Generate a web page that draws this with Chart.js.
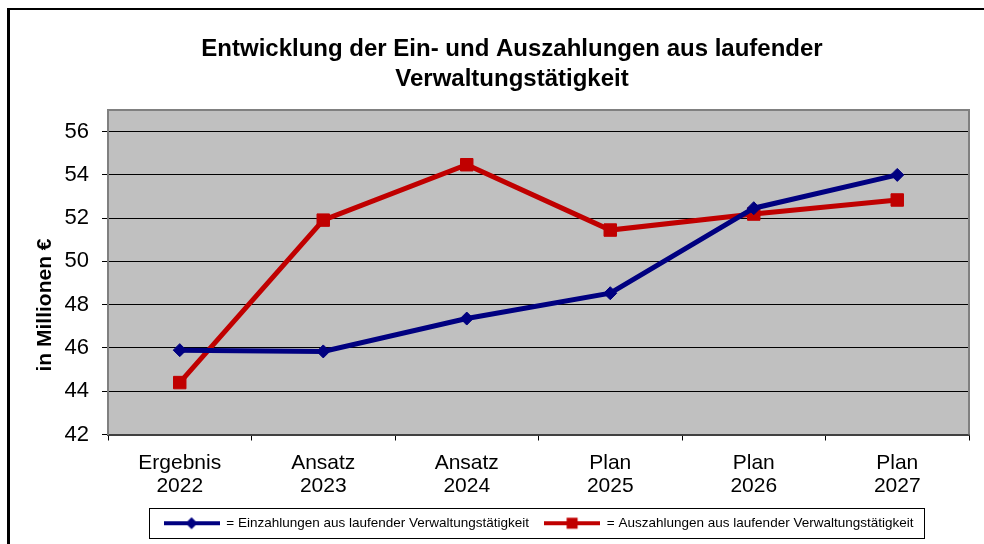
<!DOCTYPE html>
<html>
<head>
<meta charset="utf-8">
<script src="https://cdn.jsdelivr.net/npm/chart.js@4"></script>
<style>
  html, body { margin: 0; padding: 0; background: #fff; overflow: hidden; }
  #frame { position: absolute; left: 7px; top: 8px; width: 1200px; height: 800px;
           border-top: 2px solid #000; border-left: 3px solid #000; }
  #chart { position: absolute; left: 0; top: 0; }
</style>
</head>
<body>
<div id="frame"></div>
<canvas id="chart" width="984" height="544"></canvas>
<script>
// categories and values (Mio. €)
const categories = [['Ergebnis', '2022'], ['Ansatz', '2023'], ['Ansatz', '2024'], ['Plan', '2025'], ['Plan', '2026'], ['Plan', '2027']];
const einzahlungen = [45.90, 45.84, 47.36, 48.53, 52.46, 54.00];
const auszahlungen = [44.40, 51.91, 54.47, 51.45, 52.19, 52.84];
const seriesNames = ['Einzahlungen aus laufender Verwaltungstätigkeit', 'Auszahlungen aus laufender Verwaltungstätigkeit'];
const yTicks = [42, 44, 46, 48, 50, 52, 54, 56];
const titleLines = ['Entwicklung der Ein- und Auszahlungen aus laufender', 'Verwaltungstätigkeit'];
const yTitle = 'in Millionen €';

const FONT = '"Liberation Sans", Arial, sans-serif';
const BLUE = '#000080';
const RED = '#C00000';

// little legend icons: line with marker in the middle
function legendIcon(color, shape) {
  const c = document.createElement('canvas');
  c.width = 56; c.height = 14;
  const g = c.getContext('2d');
  g.strokeStyle = color; g.fillStyle = color; g.lineWidth = 4;
  g.beginPath(); g.moveTo(0, 7); g.lineTo(56, 7); g.stroke();
  g.beginPath();
  if (shape === 'diamond') {
    g.moveTo(28 - 6, 7); g.lineTo(28, 1); g.lineTo(28 + 6, 7); g.lineTo(28, 13); g.closePath();
  } else {
    g.rect(28 - 5.5, 1.5, 11, 11);
  }
  g.fill();
  return c;
}
const icons = [legendIcon(BLUE, 'diamond'), legendIcon(RED, 'square')];

const decor = {
  id: 'decor',
  beforeDraw(chart) {
    const {ctx, chartArea: a} = chart;
    ctx.save();
    ctx.fillStyle = '#C0C0C0';
    ctx.fillRect(a.left, a.top, a.right - a.left, a.bottom - a.top);
    ctx.restore();
  },
  beforeDatasetsDraw(chart) {
    const {ctx, chartArea: a} = chart;
    ctx.save();
    ctx.strokeStyle = '#808080';
    ctx.lineWidth = 2;
    ctx.beginPath();
    ctx.moveTo(a.left, a.top); ctx.lineTo(a.right, a.top); ctx.lineTo(a.right, a.bottom);
    ctx.stroke();
    ctx.restore();
  },
  afterDraw(chart) {
    const ctx = chart.ctx;
    // y axis title
    ctx.save();
    ctx.translate(51, 305);
    ctx.rotate(-Math.PI / 2);
    ctx.font = 'bold 21px ' + FONT;
    ctx.fillStyle = '#000';
    ctx.textAlign = 'center';
    ctx.textBaseline = 'alphabetic';
    ctx.fillText(yTitle, 0, 0);
    ctx.restore();
    // frame around legend
    const hb = chart.legend.legendHitBoxes;
    if (hb && hb.length) {
      const last = hb[hb.length - 1];
      const cy = hb[0].top + hb[0].height / 2;
      ctx.save();
      ctx.strokeStyle = '#000';
      ctx.lineWidth = 1;
      ctx.strokeRect(Math.round(hb[0].left - 15) + 0.5, Math.round(cy - 15) + 0.5,
        Math.round(last.left + last.width + 10 - (hb[0].left - 15)), 30);
      ctx.restore();
    }
  }
};

new Chart(document.getElementById('chart'), {
  type: 'line',
  data: {
    labels: categories,
    datasets: [{
      label: seriesNames[0],
      data: einzahlungen,
      borderColor: BLUE,
      backgroundColor: BLUE,
      borderWidth: 5,
      pointStyle: 'rectRot',
      pointRadius: 6.5,
      pointBorderWidth: 1,
      pointHoverRadius: 6.5,
      tension: 0
    }, {
      label: seriesNames[1],
      data: auszahlungen,
      borderColor: RED,
      backgroundColor: RED,
      borderWidth: 5,
      pointStyle: 'rect',
      pointRadius: 8.8,
      pointBorderWidth: 1,
      pointHoverRadius: 8.8,
      tension: 0
    }]
  },
  options: {
    responsive: false,
    animation: false,
    layout: { padding: { left: 55, right: 15, top: 0, bottom: 4 } },
    scales: {
      x: {
        offset: true,
        grid: { display: true, offset: true, drawOnChartArea: false, drawTicks: true, tickLength: 6, color: '#000' },
        border: { display: true, color: '#404040', width: 2 },
        ticks: { color: '#000', padding: 11, maxRotation: 0, autoSkip: false,
                 font: { family: FONT, size: 21, lineHeight: 1.1 } },
        afterFit(scale) { scale.height = 67; }
      },
      y: {
        min: 42,
        max: 57,
        grid: { color: '#000', lineWidth: 1, drawTicks: true, tickLength: 6, tickColor: '#000' },
        border: { display: true, color: '#808080', width: 2 },
        ticks: { color: '#000', padding: 13, font: { family: FONT, size: 22 } },
        afterBuildTicks(scale) { scale.ticks = yTicks.map(v => ({ value: v })); },
        afterFit(scale) { scale.width = 53; }
      }
    },
    plugins: {
      title: {
        display: true,
        text: titleLines,
        color: '#000',
        font: { family: FONT, size: 24, weight: 'bold', lineHeight: 30 / 24 },
        padding: { top: 34, bottom: 16 }
      },
      legend: {
        position: 'bottom',
        fullSize: false,
        labels: {
          color: '#000',
          font: { family: FONT, size: 13.5 },
          padding: 15,
          usePointStyle: true,
          pointStyleWidth: 56,
          generateLabels(chart) {
            const items = Chart.defaults.plugins.legend.labels.generateLabels(chart);
            items.forEach((it, i) => { it.text = '= ' + it.text; it.pointStyle = icons[i]; });
            return items;
          }
        }
      },
      tooltip: { enabled: false }
    }
  },
  plugins: [decor]
});
</script>
</body>
</html>
